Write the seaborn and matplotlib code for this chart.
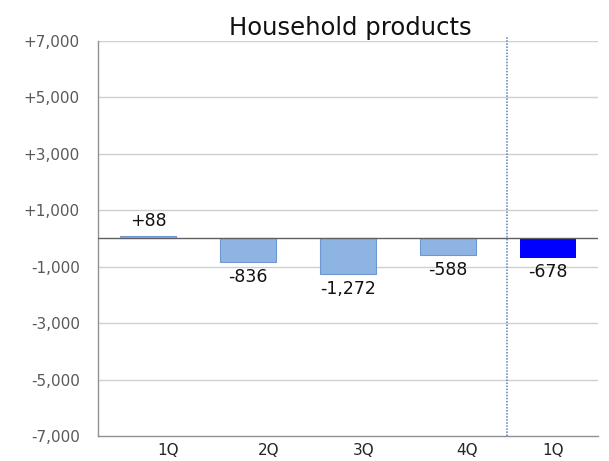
import matplotlib
matplotlib.use("Agg")
import matplotlib.pyplot as plt
import matplotlib.transforms as mtransforms
import seaborn as sns
import pandas as pd

quarters = ["1Q", "2Q", "3Q", "4Q", "1Q "]
values = [88, -836, -1272, -588, -678]
labels = ["+88", "-836", "-1,272", "-588", "-678"]
bar_colors = ["#8EB4E3", "#8EB4E3", "#8EB4E3", "#8EB4E3", "#0000FF"]
yticks = [-7000, -5000, -3000, -1000, 1000, 3000, 5000, 7000]
ytick_labels = ["-7,000", "-5,000", "-3,000", "-1,000", "+1,000", "+3,000", "+5,000", "+7,000"]

sns.set_theme(style="white")
plt.rcParams["font.family"] = ["DejaVu Sans"]

df = pd.DataFrame({"quarter": quarters, "value": values})

fig = plt.figure(figsize=(6.09, 4.61), dpi=100)
ax = fig.add_axes([98 / 609, 1 - 436 / 461, 500 / 609, 395 / 461])

sns.barplot(data=df, x="quarter", y="value", hue="quarter", palette=bar_colors,
            legend=False, width=0.56, ax=ax, saturation=1)
for i, p in enumerate(ax.patches):
    if i < 4:
        p.set_edgecolor("#6F98D0")
        p.set_linewidth(0.8)
    else:
        p.set_edgecolor("none")

ax.set_ylim(-7000, 7000)
ax.set_xlim(-0.5, 4.5)
ax.set_yticks(yticks)
ax.set_yticklabels(ytick_labels, fontsize=11, color="#595959")
ax.set_xticks(range(len(quarters)))
ax.set_xticklabels([q.strip() for q in quarters], fontsize=11, color="#262626")
ax.tick_params(axis="x", length=0, pad=5)
ax.tick_params(axis="y", length=0, pad=13)
ax.set_xlabel("")
ax.set_ylabel("")

# category labels sit a little to the right of their bars
shifts = [20, 21, 16, 19, 5]
for lbl, dx in zip(ax.get_xticklabels(), shifts):
    lbl.set_transform(lbl.get_transform() +
                      mtransforms.ScaledTranslation(dx / 100, 0, fig.dpi_scale_trans))

for y in yticks[1:]:
    ax.axhline(y, color="#D0D0D0", linewidth=1, zorder=0)
ax.axhline(0, color="#606060", linewidth=1, zorder=3)

ax.axvline(3.59, ymin=0, ymax=1.01, color="#4F81BD", linestyle=(0, (1, 1)),
           linewidth=1.1, clip_on=False, zorder=4)

for sp in ["top", "right"]:
    ax.spines[sp].set_visible(False)
for sp in ["left", "bottom"]:
    ax.spines[sp].set_color("#909090")
    ax.spines[sp].set_linewidth(1)

for i, (v, t) in enumerate(zip(values, labels)):
    if v >= 0:
        ax.annotate(t, (i, v), xytext=(0, 4), textcoords="offset points",
                    ha="center", va="bottom", fontsize=12.5, color="#111111")
    else:
        ax.annotate(t, (i, v), xytext=(0, -4), textcoords="offset points",
                    ha="center", va="top", fontsize=12.5, color="#111111")

fig.text(350 / 609, 1 - 28 / 461, "Household products", ha="center", va="center",
         fontsize=17.5, color="#111111")

fig.savefig("out.png", dpi=100)
